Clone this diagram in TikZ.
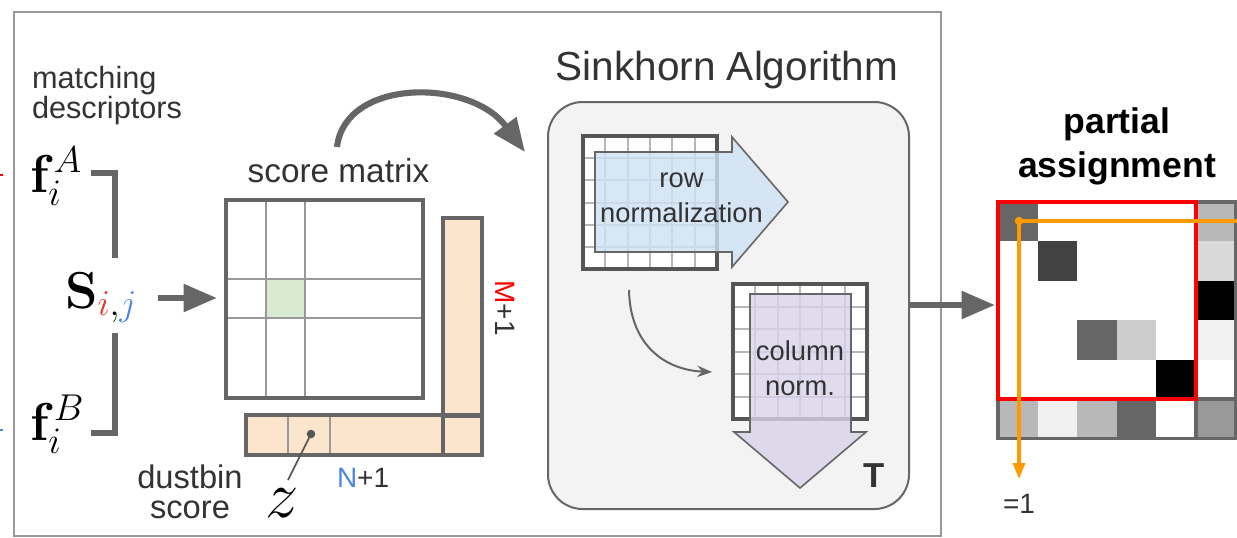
\RequirePackage{fix-cm}
\documentclass[tikz,border=0pt]{standalone}
\usepackage[no-math]{fontspec}
\setmainfont{Liberation Sans}
\usetikzlibrary{arrows.meta}
\definecolor{txt}{HTML}{333333}
\definecolor{agray}{HTML}{666666}
\definecolor{framegray}{HTML}{999999}
\definecolor{peach}{HTML}{FCE5CD}
\definecolor{cellgreen}{HTML}{D9EAD3}
\definecolor{boxbg}{HTML}{F3F3F3}
\definecolor{rowblue}{HTML}{CFE2F3}
\definecolor{colpurple}{HTML}{D9D2E9}
\definecolor{nblue}{HTML}{4A86E8}
\definecolor{mred}{HTML}{FF0000}
\definecolor{ired}{HTML}{E8352B}
\definecolor{orng}{HTML}{FF9900}
\definecolor{gridgray}{HTML}{B7B7B7}
\definecolor{darkborder}{HTML}{555555}
\newcommand\acell[3]{\fill[#3] ({998+39.6*#1},{202+39.4*#2}) rectangle ++(39.6,39.4);}
\begin{document}
\begin{tikzpicture}[x=0.75pt,y=-0.75pt,
  lbl/.style={text=txt, inner sep=0pt, outer sep=0pt},
  bigarrow/.style={draw=agray, line width=4.6pt, -{Triangle[length=25pt,width=20pt]}},
  bracket/.style={draw=agray, line width=4.6pt},
  thinarrow/.style={draw=agray, line width=1.5pt, -{Stealth[length=11pt,width=8.5pt]}},
  gridline/.style={draw=gridgray, line width=1.5pt},
  gridborder/.style={draw=darkborder, line width=2.3pt},
  mline/.style={draw=framegray, line width=1.9pt},
  mborder/.style={draw=agray, line width=2.3pt},
  normarrow/.style={draw=agray, line width=1.2pt, fill opacity=0.8},
  orangeline/.style={draw=orng, line width=2.3pt}]
\useasboundingbox (0,0) rectangle (1237,537);
\fill[white] (0,0) rectangle (1237,537);

% cut-off marks at the left edge
\draw[mred, line width=1.5pt] (0,175) -- (3,175);
\draw[nblue, line width=1.5pt] (0,430) -- (3,430);

% outer frame
\draw[framegray, line width=1.5pt] (14,12) rectangle (941,535.5);

% ---------- left part ----------
% (base anchor of a two-line node = baseline of its last line)
\node[lbl, font=\fontsize{23}{22.5}\selectfont, align=left, anchor=base west] (md) at (32,118) {matching\\descriptors};

\node[lbl, text=black, font=\fontsize{40}{40}\selectfont, anchor=base west] (fA) at (30,192) {$\mathbf{f}_i^A$};
\node[lbl, text=black, font=\fontsize{40}{40}\selectfont, anchor=base west] (fB) at (30,440) {$\mathbf{f}_i^B$};
\node[lbl, text=black, font=\fontsize{39}{39}\selectfont, anchor=base west] (S) at (65,308) {$\mathbf{S}_{{\color{ired}i},{\color{nblue}j}}$};

\coordinate (brA1) at (91,173);
\coordinate (brA2) at (115,258);
\coordinate (brB1) at (115,333);
\coordinate (brB2) at (91,433);
\draw[bracket] (brA1) -| (brA2);
\draw[bracket] (brB1) |- (brB2);

% score matrix
\coordinate (smNW) at (226,200);
\coordinate (smSE) at (423,398);
\fill[white] (smNW) rectangle (smSE);
\fill[cellgreen] (266,279) rectangle (305,318);
\draw[mline] (266,200) -- (266,398);
\draw[mline] (305,200) -- (305,398);
\draw[mline] (226,279) -- (423,279);
\draw[mline] (226,318) -- (423,318);
\draw[mborder] (smNW) rectangle (smSE);
\node[lbl, font=\fontsize{25}{25}\selectfont, anchor=base] (smt) at (338.5,182) {score matrix};

\coordinate (sArr) at (158,298);
\coordinate (smW) at (217,298);
\draw[bigarrow] (sArr) -- (smW);

% dustbins
\fill[peach] (443,218) rectangle (482,455);
\fill[peach] (246,415) rectangle (483,455);
\draw[mline] (288,415) -- (288,455);
\draw[mline] (330,415) -- (330,455);
\draw[mborder] (443,415) -- (443,455);
\draw[mborder] (443,416) -- (482,416);
\draw[mborder] (443,218) rectangle (482,455);
\draw[mborder] (246,415) rectangle (482,455);

\coordinate (zdot) at (311,434);
\fill[darkborder] (zdot) circle (3.2pt);
\node[lbl, text=black, font=\fontsize{50}{50}\selectfont] (z) at (282,503) {$z$};
\draw[darkborder, line width=1.3pt] (zdot) -- (288,480);

\node[lbl, font=\fontsize{24.5}{22.5}\selectfont, align=center, anchor=base] (db) at (190,518) {dustbin\\score};
\node[lbl, font=\fontsize{21}{21}\selectfont, anchor=base west] (n1) at (337,487) {{\color{nblue}N}+1};
\node[lbl, font=\fontsize{21}{21}\selectfont, rotate=-90] (m1) at (505,308) {{\color{mred}M}+1};

% curved arrow to Sinkhorn
\coordinate (cA) at (337,147);
\coordinate (cB) at (525,152);
\draw[bigarrow] (cA) .. controls (345,78) and (470,78) .. (cB);

% ---------- Sinkhorn ----------
\node[lbl, font=\fontsize{30.4}{30.4}\selectfont, anchor=base] (sk) at (727,80) {Sinkhorn Algorithm};
\draw[agray, fill=boxbg, line width=1.5pt, rounded corners=26pt] (548,102) rectangle (909,509);

% row grid
\fill[white] (583,136) rectangle (717,269);
\foreach \i in {1,...,5} {
  \draw[gridline] ({583+\i*134/6},136) -- ({583+\i*134/6},269);
  \draw[gridline] (583,{136+\i*133/6}) -- (717,{136+\i*133/6});
}
\draw[gridborder] (583,136) rectangle (717,269);
\path[normarrow, fill=rowblue] (595,152) -- (732,152) -- (732,137) -- (788,202) -- (732,267) -- (732,252) -- (595,252) -- cycle;
\node[lbl, font=\fontsize{20.5}{26.25}\selectfont, align=center, anchor=base] (rn) at (681.5,222) {row\\normalization};

\coordinate (tA) at (629,290);
\coordinate (tB) at (712,372);
\draw[thinarrow] (tA) .. controls (630,345) and (665,370) .. (tB);

% column grid
\fill[white] (733,284) rectangle (867,419);
\foreach \i in {1,...,5} {
  \draw[gridline] ({733+\i*134/6},284) -- ({733+\i*134/6},419);
  \draw[gridline] (733,{284+\i*135/6}) -- (867,{284+\i*135/6});
}
\draw[gridborder] (733,284) rectangle (867,419);
\path[normarrow, fill=colpurple] (750,294) -- (851,294) -- (851,432) -- (866,432) -- (800,488) -- (734,432) -- (750,432) -- cycle;
\node[lbl, font=\fontsize{20.5}{26.25}\selectfont, align=center, anchor=base] (cn) at (800,395) {column\\norm.};
\node[lbl, font=\fontsize{26}{26}\selectfont\bfseries, anchor=base west] (T) at (863,487) {T};

\coordinate (oA) at (909,305);
\coordinate (oB) at (995,305);
\draw[bigarrow] (oA) -- (oB);

% ---------- partial assignment ----------
\node[lbl, text=black, font=\fontsize{26.7}{33}\selectfont\bfseries, align=center, anchor=base] (pa) at (1117,177) {partial\\assignment};

\fill[white] (998,202) rectangle (1235.6,438.4);
\acell{0}{0}{black!60}
\acell{1}{1}{black!74}
\acell{2}{3}{black!60}
\acell{3}{3}{black!20}
\acell{4}{4}{black}
\acell{5}{0}{black!28}
\acell{5}{1}{black!15}
\acell{5}{2}{black}
\acell{5}{3}{black!5}
\acell{5}{4}{white}
\acell{0}{5}{black!28}
\acell{1}{5}{black!6}
\acell{2}{5}{black!28}
\acell{3}{5}{black!60}
\acell{4}{5}{white}
\acell{5}{5}{black!40}
\draw[mborder] (998,202) rectangle (1235.6,438.4);
\draw[mborder] (1196,202) -- (1196,438.4);
\draw[mborder] (998,399) -- (1235.6,399);
\draw[mred, line width=2.3pt] (998,202) rectangle (1196,399);

\coordinate (odot) at (1019,221);
\coordinate (oright) at (1240,221);
\coordinate (odown) at (1019,479);
\draw[orangeline] (odot) -- (oright);
\draw[orangeline, -{Triangle[length=12pt,width=9pt]}] (odot) -- (odown);
\fill[orng] (odot) circle (3.2pt);
\node[lbl, font=\fontsize{21}{21}\selectfont, anchor=base west] (eq) at (1003,513) {=1};
\end{tikzpicture}
\end{document}
